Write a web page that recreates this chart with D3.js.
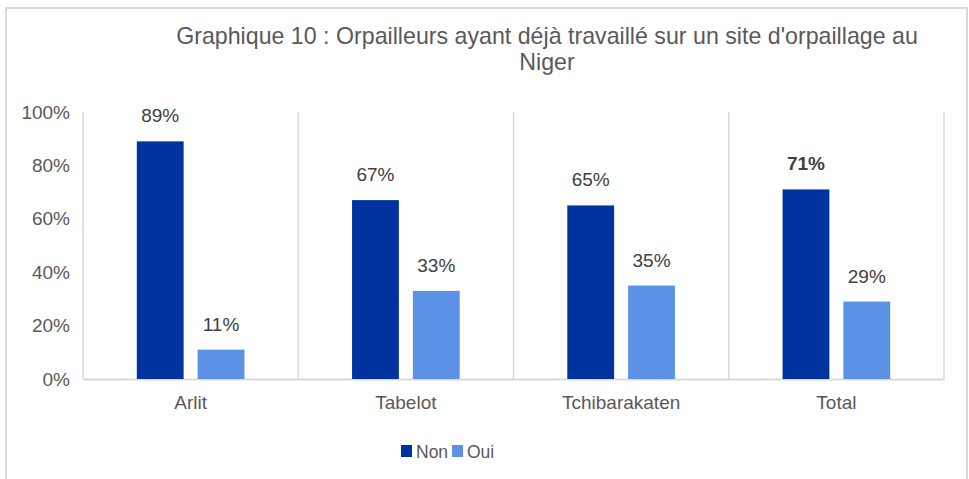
<!DOCTYPE html>
<html><head><meta charset="utf-8">
<script src="https://cdn.jsdelivr.net/npm/d3@7"></script>
<style>body{margin:0;background:#fff;} svg{display:block;font-family:"Liberation Sans",Arial,sans-serif;}</style>
</head><body>
<svg id="c" width="969" height="479"></svg>
<script>
const categories = ["Arlit","Tabelot","Tchibarakaten","Total"];
const seriesNames = ["Non","Oui"];
const nonValues = [0.89,0.67,0.65,0.71];
const ouiValues = [0.11,0.33,0.35,0.29];
const yTicks = [0,0.2,0.4,0.6,0.8,1.0];
const colors = ["#0033a0","#5b92e5"];
const titleLines = ["Graphique 10 : Orpailleurs ayant déjà travaillé sur un site d'orpaillage au","Niger"];

const FS = 19;
const svg = d3.select("#c");
// outer frame
svg.append("path").attr("d","M6,479 V8 H967 V479").attr("fill","none").attr("stroke","#d9d9d9").attr("stroke-width",2);

const m = {l:83, r:944, t:112, b:379};
const x0 = d3.scaleBand().domain(categories).range([m.l,m.r]).paddingInner(0).paddingOuter(0);
const x1 = d3.scaleBand().domain(seriesNames).range([0,x0.bandwidth()]).paddingInner(0.23).paddingOuter(0.885);
const y = d3.scaleLinear().domain([0,1]).range([m.b,m.t]);

// title
svg.append("g").selectAll("text").data(titleLines).join("text")
  .attr("x",547).attr("y",(d,i)=>44+i*26).attr("text-anchor","middle")
  .attr("font-size",23.2).attr("fill","#595959").text(d=>d);

// vertical separators
const seps = categories.map(c=>x0(c)).concat([x0.range()[1]]);
svg.append("g").selectAll("line").data(seps).join("line")
  .attr("x1",d=>d).attr("x2",d=>d).attr("y1",y(1)).attr("y2",y(0))
  .attr("stroke","#d9d9d9").attr("stroke-width",1.5);

// y axis
const yAxis = d3.axisLeft(y).tickValues(yTicks).tickFormat(d3.format(".0%")).tickSize(0).tickPadding(13);
const gy = svg.append("g").attr("transform",`translate(${m.l},0)`).call(yAxis);
gy.select(".domain").remove();
gy.selectAll("text").attr("font-size",FS).attr("fill","#595959").attr("font-family","Liberation Sans, Arial, sans-serif");

// x axis
const xAxis = d3.axisBottom(x0).tickSize(0).tickPadding(17);
const gx = svg.append("g").attr("transform",`translate(0,${m.b})`).call(xAxis);
gx.select(".domain").attr("stroke","#d9d9d9").attr("stroke-width",2);
gx.selectAll("text").attr("font-size",FS).attr("fill","#595959").attr("font-family","Liberation Sans, Arial, sans-serif");

// bars
const rows = categories.map((c,i)=>({cat:c, vals:[{s:"Non",v:nonValues[i]},{s:"Oui",v:ouiValues[i]}]}));
const g = svg.append("g").selectAll("g").data(rows).join("g").attr("transform",d=>`translate(${x0(d.cat)},0)`);
g.selectAll("rect").data(d=>d.vals).join("rect")
  .attr("x",d=>x1(d.s)).attr("width",x1.bandwidth())
  .attr("y",d=>y(d.v)).attr("height",d=>y(0)-y(d.v))
  .attr("fill",(d,i)=>colors[i]);
g.selectAll("text").data(d=>d.vals.map(v=>({...v,cat:d.cat}))).join("text")
  .attr("x",d=>x1(d.s)+x1.bandwidth()/2).attr("y",d=>y(d.v)-19)
  .attr("text-anchor","middle").attr("font-size",FS)
  .attr("font-weight",d=>(d.cat==="Total"&&d.s==="Non")?"bold":"normal")
  .attr("fill","#404040").text(d=>d3.format(".0%")(d.v));

// legend
const lg = svg.append("g").attr("transform","translate(401,445)");
const items = [{n:"Non",x:0},{n:"Oui",x:51}];
items.forEach((it,i)=>{
  lg.append("rect").attr("x",it.x).attr("y",0).attr("width",11).attr("height",12).attr("fill",colors[i]);
  lg.append("text").attr("x",it.x+15).attr("y",12.5).attr("font-size",17.5).attr("fill","#595959").text(it.n);
});
</script>
</body></html>
